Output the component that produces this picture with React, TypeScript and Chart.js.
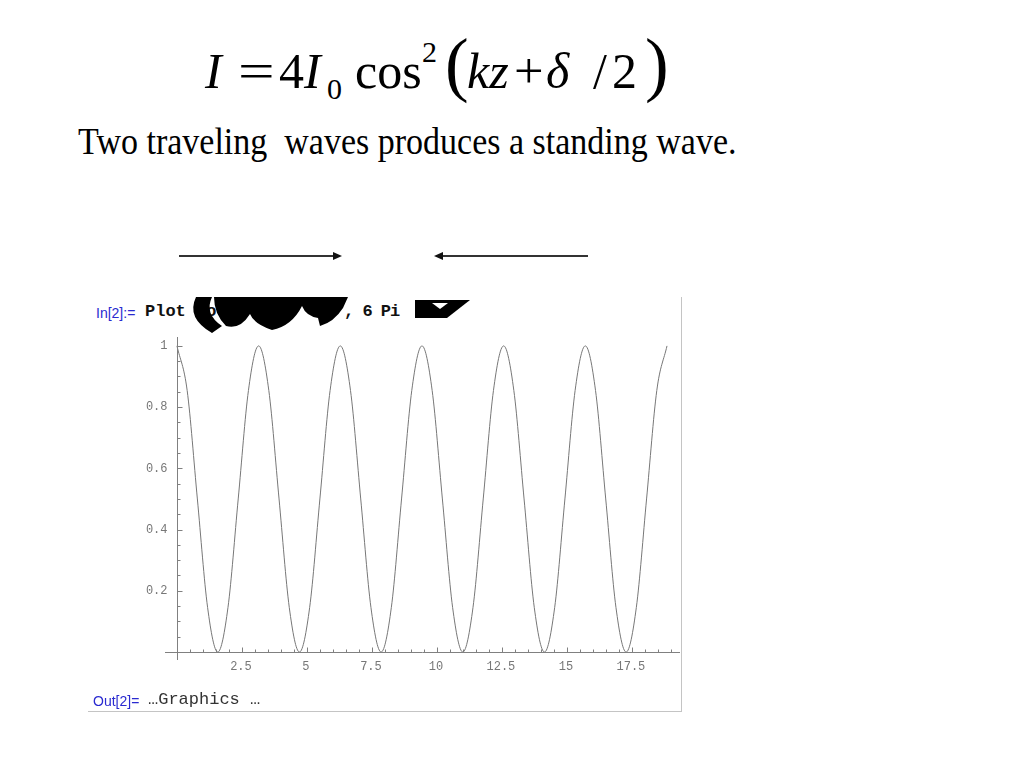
import React, { useEffect, useRef } from "react";
import { Chart, registerables } from "chart.js";

Chart.register(...registerables);

// ---- data (x in units, y = intensity) ----
const X_VALUES = [
  0, 0.393, 0.785, 1.178, 1.571, 1.963, 2.356, 2.749, 3.142, 3.534, 3.927, 4.32,
  4.712, 5.105, 5.498, 5.89, 6.283, 6.676, 7.069, 7.461, 7.854, 8.247, 8.639, 9.032,
  9.425, 9.817, 10.21, 10.603, 10.996, 11.388, 11.781, 12.174, 12.566, 12.959, 13.352,
  13.744, 14.137, 14.53, 14.923, 15.315, 15.708, 16.101, 16.493, 16.886, 17.279,
  17.671, 18.064, 18.457, 18.85,
];
const Y_VALUES = [
  1, 0.854, 0.5, 0.146, 0, 0.146, 0.5, 0.854,
  1, 0.854, 0.5, 0.146, 0, 0.146, 0.5, 0.854,
  1, 0.854, 0.5, 0.146, 0, 0.146, 0.5, 0.854,
  1, 0.854, 0.5, 0.146, 0, 0.146, 0.5, 0.854,
  1, 0.854, 0.5, 0.146, 0, 0.146, 0.5, 0.854,
  1, 0.854, 0.5, 0.146, 0, 0.146, 0.5, 0.854,
  1,
];

const X_TICKS = [2.5, 5, 7.5, 10, 12.5, 15, 17.5];
const X_TICK_LABELS = ["2.5", "5", "7.5", "10", "12.5", "15", "17.5"];
const Y_TICKS = [0.2, 0.4, 0.6, 0.8, 1];
const Y_TICK_LABELS = ["0.2", "0.4", "0.6", "0.8", "1"];
const X_MINOR_STEP = 0.5;
const Y_MINOR_STEP = 0.05;

const mmaAxes = {
  id: "mmaAxes",
  afterDatasetsDraw(chart: any) {
    const { ctx, chartArea: a } = chart;
    const xs = chart.scales.x;
    const ys = chart.scales.y;
    const x0 = Math.round(xs.getPixelForValue(0)) + 0.5;
    const y0 = Math.round(ys.getPixelForValue(0)) + 0.5;
    ctx.save();
    ctx.strokeStyle = "#808080";
    ctx.lineWidth = 1;
    ctx.beginPath();
    ctx.moveTo(a.left, y0);
    ctx.lineTo(a.right, y0);
    ctx.moveTo(x0, a.top);
    ctx.lineTo(x0, a.bottom);
    for (let v = X_MINOR_STEP; v < xs.max; v += X_MINOR_STEP) {
      const px = Math.round(xs.getPixelForValue(v)) + 0.5;
      ctx.moveTo(px, y0);
      ctx.lineTo(px, y0 - 3);
    }
    for (let v = Y_MINOR_STEP; v < ys.max; v += Y_MINOR_STEP) {
      const py = Math.round(ys.getPixelForValue(v)) + 0.5;
      ctx.moveTo(x0, py);
      ctx.lineTo(x0 + 3, py);
    }
    X_TICKS.forEach((v) => {
      const px = Math.round(xs.getPixelForValue(v)) + 0.5;
      ctx.moveTo(px, y0);
      ctx.lineTo(px, y0 - 5);
    });
    Y_TICKS.forEach((v) => {
      const py = Math.round(ys.getPixelForValue(v)) + 0.5;
      ctx.moveTo(x0, py);
      ctx.lineTo(x0 + 5, py);
    });
    ctx.stroke();
    ctx.fillStyle = "#777";
    ctx.font = "12px 'Liberation Mono'";
    ctx.textAlign = "center";
    ctx.textBaseline = "middle";
    X_TICKS.forEach((v, i) => {
      ctx.fillText(X_TICK_LABELS[i], xs.getPixelForValue(v) - 1, y0 + 14);
    });
    ctx.textAlign = "right";
    Y_TICKS.forEach((v, i) => {
      ctx.fillText(Y_TICK_LABELS[i], x0 - 10, ys.getPixelForValue(v));
    });
    ctx.restore();
  },
};

function PlotCanvas() {
  const ref = useRef<HTMLCanvasElement | null>(null);
  useEffect(() => {
    if (!ref.current) return;
    const chart = new Chart(ref.current, {
      type: "line",
      data: {
        datasets: [
          {
            data: X_VALUES.map((x, i) => ({ x, y: Y_VALUES[i] })),
            borderColor: "#777",
            borderWidth: 1,
            pointRadius: 0,
            cubicInterpolationMode: "monotone",
            fill: false,
          },
        ],
      },
      options: {
        animation: false,
        responsive: false,
        maintainAspectRatio: false,
        layout: { padding: { left: 77, right: 2, top: 37, bottom: 50 } },
        plugins: { legend: { display: false }, tooltip: { enabled: false } },
        scales: {
          x: { type: "linear", min: -0.46, max: 19.35, display: false },
          y: { type: "linear", min: -0.026, max: 1.029, display: false },
        },
      },
      plugins: [mmaAxes],
    } as any);
    return () => chart.destroy();
  }, []);
  return (
    <canvas
      ref={ref}
      width={594}
      height={410}
      style={{ position: "absolute", left: 88, top: 300, width: 594, height: 410 }}
    />
  );
}

const serif = "'Liberation Serif', 'Times New Roman', serif";
const mono = "'Liberation Mono', 'Courier New', monospace";
const sans = "'Liberation Sans', Arial, sans-serif";

function Piece(props: {
  text: string;
  left: number;
  base: number;
  size: number;
  italic?: boolean;
  sx?: number;
}) {
  const { text, left, base, size, italic, sx } = props;
  return (
    <span
      style={{
        position: "absolute",
        left,
        top: base - 0.8375 * size,
        fontFamily: serif,
        fontSize: size,
        lineHeight: 1,
        fontStyle: italic ? "italic" : "normal",
        whiteSpace: "pre",
        transform: sx ? `scaleX(${sx})` : undefined,
        transformOrigin: "left center",
        color: "#000",
      }}
    >
      {text}
    </span>
  );
}

export default function App() {
  return (
    <div
      style={{
        position: "absolute",
        left: 0,
        top: 0,
        width: 1024,
        height: 768,
        background: "#fff",
        overflow: "hidden",
      }}
    >
      {/* Equation */}
      <Piece text="I" left={205} base={88} size={50} italic />
      <Piece text="=" left={238} base={88} size={50} sx={1.3} />
      <Piece text="4" left={279} base={88} size={50} />
      <Piece text="I" left={304} base={88} size={50} italic />
      <Piece text="0" left={327} base={99} size={30} />
      <Piece text="cos" left={355} base={88} size={50} />
      <Piece text="2" left={422} base={62} size={30} />
      <Piece text="(" left={445} base={88} size={71} />
      <Piece text="kz" left={467} base={88} size={50} italic />
      <Piece text="+" left={514} base={88} size={50} sx={1.05} />
      <Piece text="δ" left={546} base={88} size={50} italic />
      <Piece text="/" left={593} base={88} size={50} />
      <Piece text="2" left={612} base={88} size={50} />
      <Piece text=")" left={645} base={88} size={71} />

      {/* Sentence */}
      <div
        style={{
          position: "absolute",
          left: 78,
          top: 155 - 0.8375 * 34,
          fontFamily: serif,
          fontSize: 34,
          lineHeight: 1,
          whiteSpace: "pre",
          transform: "scaleY(1.1)",
          transformOrigin: "left bottom",
        }}
      >
        Two traveling  waves produces a standing wave.
      </div>

      {/* Arrows */}
      <svg width={1024} height={768} style={{ position: "absolute", left: 0, top: 0 }}>
        <line x1={179} y1={256} x2={334} y2={256} stroke="#333" strokeWidth={2} />
        <polygon points="342,256 333,252 333,260" fill="#111" />
        <line x1={443} y1={256} x2={588} y2={256} stroke="#333" strokeWidth={2} />
        <polygon points="434,256 443,252 443,260" fill="#111" />
      </svg>

      {/* Notebook frame */}
      <div
        style={{
          position: "absolute",
          left: 88,
          top: 297,
          width: 593,
          height: 414,
          borderRight: "1px solid #c4c4c4",
          borderBottom: "1px solid #c4c4c4",
        }}
      />

      {/* Input line */}
      <span
        style={{
          position: "absolute",
          left: 96,
          top: 305,
          fontFamily: sans,
          fontSize: 14,
          lineHeight: "16px",
          color: "#2a2ad0",
          whiteSpace: "pre",
        }}
      >
        In[2]:=
      </span>
      <span
        style={{
          position: "absolute",
          left: 145,
          top: 302,
          fontFamily: mono,
          fontWeight: "bold",
          fontSize: 17,
          lineHeight: "19px",
          color: "#111",
          whiteSpace: "pre",
        }}
      >
        Plot Co
      </span>
      <span
        style={{
          position: "absolute",
          left: 344,
          top: 302,
          fontFamily: mono,
          fontWeight: "bold",
          fontSize: 17,
          lineHeight: "19px",
          color: "#111",
          whiteSpace: "pre",
          letterSpacing: -1,
        }}
      >
        , 6 Pi
      </span>
      {/* garbled glyph blobs */}
      <svg width={1024} height={768} style={{ position: "absolute", left: 0, top: 0 }}>
        <path d="M196,297 L212,297 Q204,314 222,326 L212,333 Q186,318 196,297 Z" fill="#000" />
        <path
          d="M214,297 L348,297 L343,308 Q334,322 320,326 L318,318 Q306,316 302,306 Q292,326 272,330 Q254,324 250,314 Q240,330 226,326 Q214,314 214,297 Z"
          fill="#000"
        />
        <path d="M415,300 L470,300 L447,318 L415,318 Z" fill="#000" />
        <path d="M432,303 L448,303 L440,309 Z" fill="#fff" />
      </svg>

      <PlotCanvas />

      {/* Output line */}
      <span
        style={{
          position: "absolute",
          left: 93,
          top: 693,
          fontFamily: sans,
          fontSize: 14,
          lineHeight: "16px",
          color: "#2a2ad0",
          whiteSpace: "pre",
        }}
      >
        Out[2]=
      </span>
      <span
        style={{
          position: "absolute",
          left: 148,
          top: 690,
          fontFamily: mono,
          fontSize: 17,
          lineHeight: "19px",
          color: "#333",
          whiteSpace: "pre",
        }}
      >
        …Graphics …
      </span>
    </div>
  );
}
